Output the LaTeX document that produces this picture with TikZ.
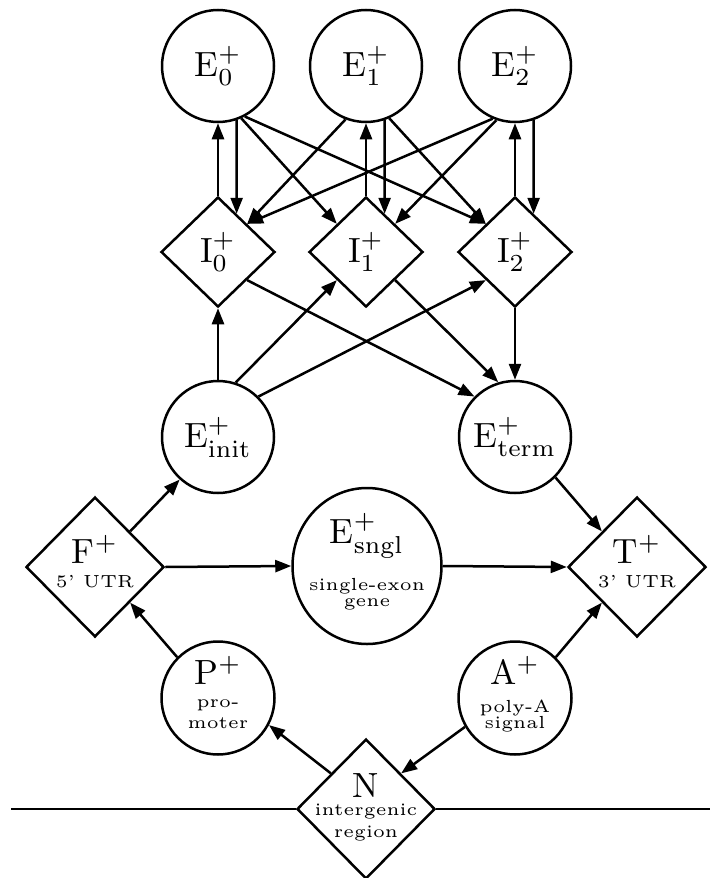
\documentclass[tikz,border=0pt]{standalone}
\usepackage{graphicx}
\usepackage{tikz}
\usetikzlibrary{shapes.geometric, arrows.meta, calc}
\newcommand{\magtxt}[1]{\scalebox{3.5}{#1}}
\newcommand{\nodestack}[1]{\magtxt{\begin{tabular}{@{}c@{}}#1\end{tabular}}}
\tikzset{
	state/.style  ={circle, draw=black, line width=2.5pt, minimum size=112pt, inner sep=0pt},
	single/.style ={ellipse, draw=black, line width=2.5pt, minimum width=149pt, minimum height=156pt, inner sep=0pt},
	intron/.style ={diamond, draw=black, line width=2.5pt, minimum width=114pt, minimum height=110pt, inner sep=0pt},
	border/.style ={diamond, draw=black, line width=2.5pt, minimum width=138pt, minimum height=140pt, inner sep=0pt},
	txt/.style    ={label={center:#1}},
	trans/.style  ={-{Triangle[length=16pt, width=12pt]}, line width=2.5pt},
}
\begin{document}
\begin{tikzpicture}[x=1pt, y=-1pt]
	\useasboundingbox (0,0) rectangle (710,878);
	% exon and intron states
	\node[state, txt={\magtxt{E$^+_0$}}] (E0) at (218,66) {};
	\node[state, txt={\magtxt{E$^+_1$}}] (E1) at (366,66) {};
	\node[state, txt={\magtxt{E$^+_2$}}] (E2) at (515,66) {};
	\node[intron, txt={\magtxt{I$^+_0$}}] (I0) at (218,252) {};
	\node[intron, txt={\magtxt{I$^+_1$}}] (I1) at (366,252) {};
	\node[intron, txt={\magtxt{I$^+_2$}}] (I2) at (515,252) {};
	\node[state, txt={\magtxt{E$^+_{\mathrm{init}}$}}] (Einit) at (218,437) {};
	\node[state, txt={\magtxt{E$^+_{\mathrm{term}}$}}] (Eterm) at (515,437) {};
	% gene borders
	\node[border, txt={\nodestack{F$^+$\\[-5pt]\tiny 5' UTR}}] (F) at (95,567) {};
	\node[single, txt={\nodestack{E$^+_{\mathrm{sngl}}$\\[1.5pt]\tiny single-exon\\[-7.5pt]\tiny gene}}] (Esngl) at (367,566) {};
	\node[border, txt={\nodestack{T$^+$\\[-5pt]\tiny 3' UTR}}] (T) at (637,567) {};
	\node[state, minimum size=113pt, txt={\nodestack{P$^+$\\[-5.5pt]\tiny pro-\\[-6pt]\tiny moter}}] (P) at (218,698) {};
	\node[state, minimum size=113pt, txt={\nodestack{A$^+$\\[-4pt]\tiny poly-A\\[-7.3pt]\tiny signal}}] (A) at (515,698) {};
	\node[border, txt={\nodestack{N\\[-6.7pt]\tiny intergenic\\[-5.8pt]\tiny region}}] (N) at (366,809) {};
	\coordinate (lineL) at (11,809);
	\coordinate (lineR) at (710,809);
	% exon <-> intron
	\draw[trans] (I0.north) -- (E0.south);
	\draw[trans] (I1.north) -- (E1.south);
	\draw[trans] (I2.north) -- (E2.south);
	\draw[trans] (E0.-71) -- ($(I0.north)!.32!(I0.east)$);
	\draw[trans] (E1.-71) -- ($(I1.north)!.32!(I1.east)$);
	\draw[trans] (E2.-71) -- ($(I2.north)!.32!(I2.east)$);
	\draw[trans] (E0.-66) -- (I1.north west);
	\draw[trans] (E0.-62) -- (I2.north west);
	\draw[trans] (E1.-111) -- (I0.north east);
	\draw[trans] (E1.-66) -- (I2.north west);
	\draw[trans] (E2.-113) -- (I0.north east);
	\draw[trans] (E2.-109) -- (I1.north east);
	% initial and terminal exons
	\draw[trans] (Einit.north) -- (I0.south);
	\draw[trans] (Einit.72) -- (I1.south west);
	\draw[trans] (Einit.45) -- (I2.south west);
	\draw[trans] (I0.south east) -- (Eterm.135);
	\draw[trans] (I1.south east) -- (Eterm.107);
	\draw[trans] (I2.south) -- (Eterm.north);
	% borders
	\draw[trans] (F.north east) -- (Einit.-132);
	\draw[trans] (F.east) -- (Esngl.west);
	\draw[trans] (Esngl.east) -- (T.west);
	\draw[trans] (Eterm.-45) -- (T.north west);
	\draw[trans] (P.135) -- (F.south east);
	\draw[trans] (A.45) -- (T.south west);
	\draw[trans] (N.north west) -- (P.-28);
	\draw[trans] (A.-150) -- (N.north east);
	\draw[line width=2.5pt] (lineL) -- (N.west);
	\draw[line width=2.5pt] (N.east) -- (lineR);
\end{tikzpicture}
\end{document}
